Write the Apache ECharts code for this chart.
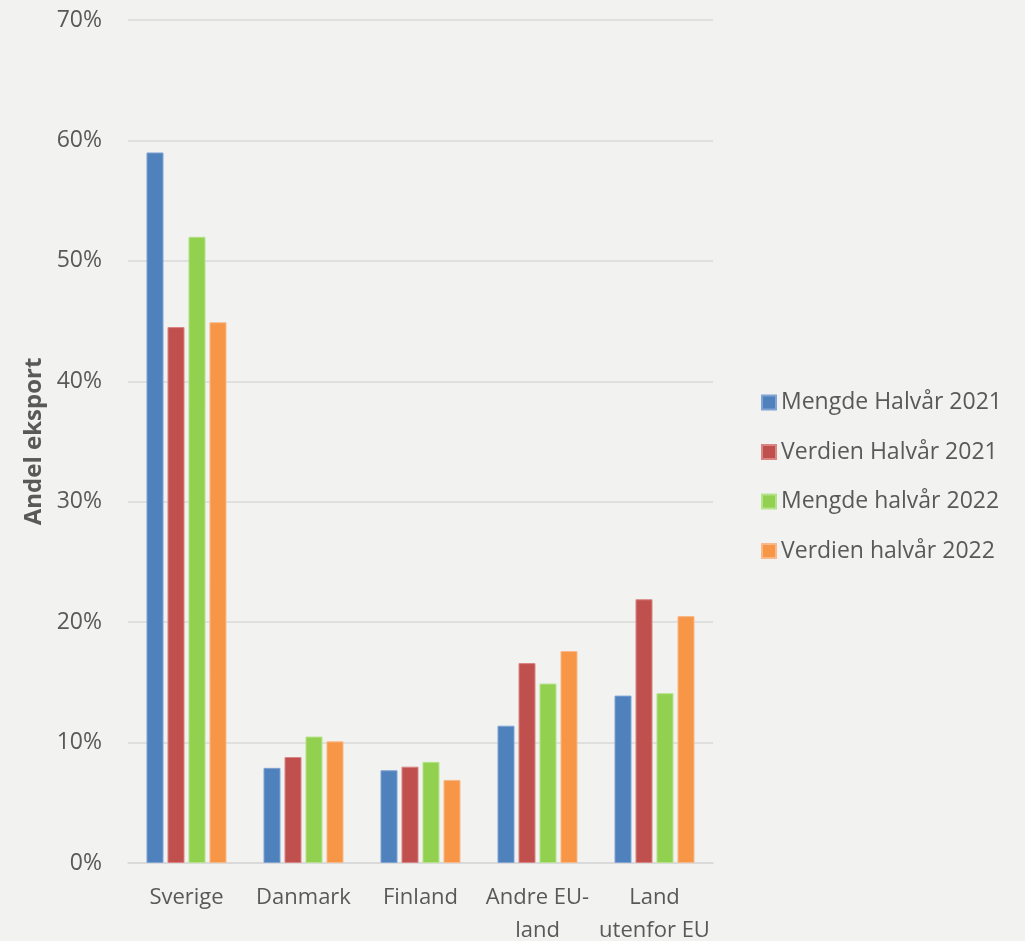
<!DOCTYPE html>
<html><head><meta charset="utf-8">
<script src="https://cdn.jsdelivr.net/npm/echarts@6/dist/echarts.min.js"></script>
<style>html,body{margin:0;padding:0;background:#F2F2F1;}#c{width:1025px;height:941px;}</style>
</head><body><div id="c"></div>
<script>
const categories = ["Sverige", "Danmark", "Finland", "Andre EU-\nland", "Land\nutenfor EU"];
const seriesNames = ["Mengde Halvår 2021", "Verdien Halvår 2021", "Mengde halvår 2022", "Verdien halvår 2022"];
const mengde2021 = [59.0, 7.9, 7.7, 11.4, 13.9];
const verdien2021 = [44.5, 8.8, 8.0, 16.6, 21.9];
const mengde2022 = [52.0, 10.5, 8.4, 14.9, 14.1];
const verdien2022 = [44.9, 10.1, 6.9, 17.6, 20.5];
const yTicks = [0, 10, 20, 30, 40, 50, 60, 70];

const colors = ["#4F81BD", "#C0504D", "#92D050", "#F79646"];
const borders = ["#7FA3D3", "#D98583", "#B5E38A", "#F9B887"];
const dataSets = [mengde2021, verdien2021, mengde2022, verdien2022];
const font = "'Open Sans', sans-serif";

const chart = echarts.init(document.getElementById('c'));
chart.setOption({
  backgroundColor: '#F2F2F1',
  animation: false,
  color: colors,
  grid: { left: 128, right: 312, top: 20, bottom: 78, containLabel: false, outerBoundsMode: 'none' },
  legend: {
    orient: 'vertical', left: 756, top: 386,
    itemWidth: 14, itemHeight: 14, itemGap: 26.5, icon: 'rect',
    textStyle: { fontFamily: font, fontSize: 23, color: '#595959' },
    data: seriesNames
  },
  xAxis: {
    type: 'category', data: categories,
    axisLine: { show: true, lineStyle: { color: '#D9D9D9', width: 1.5 } },
    axisTick: { show: false },
    axisLabel: { fontFamily: font, fontSize: 22, color: '#595959', margin: 18, lineHeight: 33, interval: 0 }
  },
  yAxis: {
    type: 'value', min: yTicks[0], max: yTicks[yTicks.length-1], interval: 10,
    name: 'Andel eksport', nameLocation: 'middle', nameGap: 82, nameRotate: 90,
    nameTextStyle: { fontFamily: font, fontSize: 24, fontWeight: 'bold', color: '#595959' },
    axisLine: { show: false }, axisTick: { show: false },
    axisLabel: { fontFamily: font, fontSize: 23, color: '#595959', margin: 26, formatter: v => v + '%' },
    splitLine: { lineStyle: { color: '#D9D9D9', width: 1.5 } }
  },
  series: seriesNames.map((n, i) => ({
    name: n, type: 'bar', data: dataSets[i],
    barWidth: 17, barGap: '23.5%',
    itemStyle: { color: colors[i], borderColor: borders[i], borderWidth: 1 }
  }))
});
</script></body></html>
